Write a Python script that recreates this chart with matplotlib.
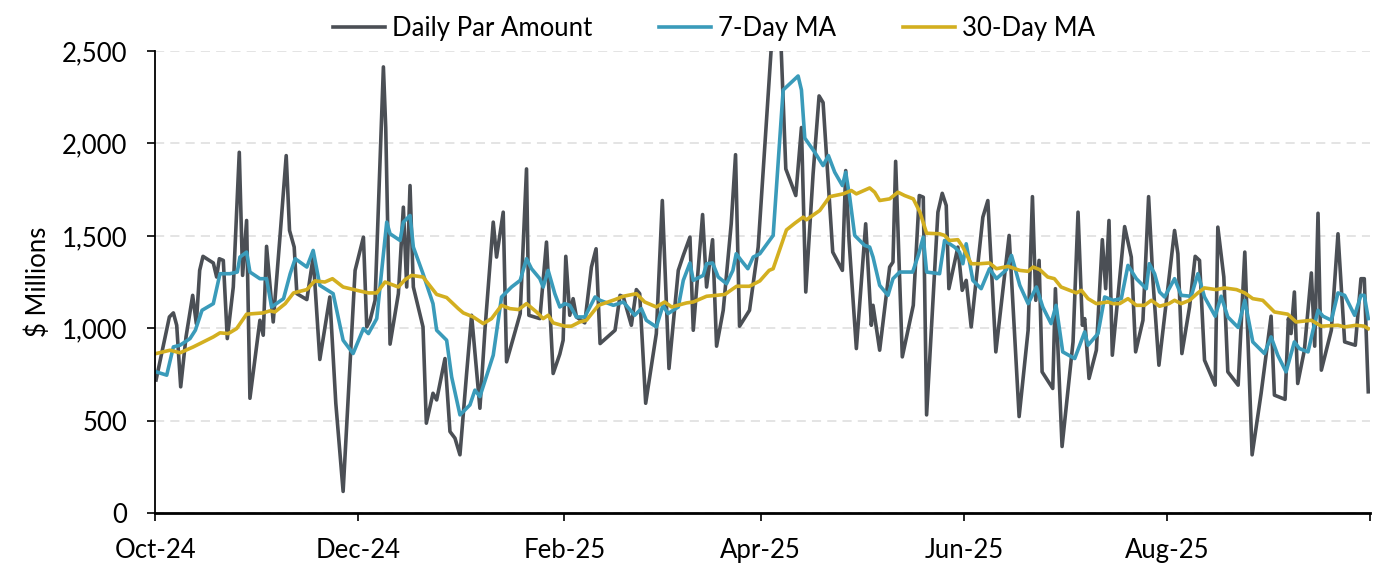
import pandas as pd
import matplotlib
matplotlib.use('Agg')
import matplotlib.pyplot as plt
import matplotlib.dates as mdates
from matplotlib.ticker import FuncFormatter

plt.rcParams['font.family'] = ['Lato', 'DejaVu Sans']

# Значения; дни отсчитываются от 2024-10-01
start = pd.Timestamp('2024-10-01')

daily_day = [0.3, 4.3, 5.5, 6.5, 7.7, 9.3, 11.3, 12.4, 13.4, 14.4, 17.5, 18.5, 19.3, 20.5, 21.7,
             23.5, 25.3, 26.3, 27.5, 28.5, 31.5, 32.5, 33.5, 35.5, 37.6, 39.4, 40.4, 41.8, 42.6,
             45.6, 47.5, 49.5, 52.5, 54.3, 56.5, 60.1, 62.6, 63.6, 64.6, 66.1, 68.6, 69.3, 70.6,
             73.1, 74.6, 75.6, 76.6, 77.6, 80.5, 81.5, 83.5, 84.6, 87.1, 88.6, 90.1, 91.6, 93.6,
             95.1, 97.6, 99.1, 101.6, 102.6, 104.6, 105.6, 109.7, 111.6, 112.3, 115.6, 117.6,
             119.6, 121.6, 122.6, 123.4, 124.6, 125.6, 126.6, 129.1, 131.1, 132.5, 133.7, 138.2,
             139.7, 140.7, 143.1, 144.6, 145.6, 147.4, 150.6, 152.4, 154.4, 157.2, 158.7, 160.7,
             161.7, 164.5, 165.7, 167.5, 168.7, 170.7, 173.1, 174.4, 175.6, 178.6, 181.2, 187.0,
             189.5, 192.5, 194.2, 195.5, 197.7, 199.5, 200.7, 203.6, 206.5, 207.5, 208.5, 210.7,
             213.5, 215.2, 215.7, 217.7, 220.7, 221.7, 222.5, 224.5, 227.8, 229.6, 230.8, 231.8,
             235.2, 236.5, 237.7, 238.5, 241.2, 242.5, 243.7, 245.2, 248.7, 250.2, 252.6, 256.6,
             259.6, 262.3, 263.6, 264.6, 265.6, 266.5, 269.7, 270.5, 272.5, 275.8, 277.3, 278.6,
             279.3, 280.6, 282.8, 284.6, 285.6, 286.6, 287.6, 291.3, 293.3, 294.6, 296.8, 298.5,
             299.8, 301.6, 306.3, 307.3, 308.5, 310.8, 312.5, 313.8, 315.3, 318.5, 319.3, 321.1,
             322.3, 325.4, 327.4, 329.6, 332.3, 335.3, 336.3, 339.5, 340.5, 341.3, 342.3, 343.3,
             345.3, 347.4, 348.4, 349.4, 350.4, 353.4, 355.4, 357.4, 360.6, 362.3, 363.3, 364.5]
daily_val = [720, 1061, 1083, 1016, 683, 953, 1178, 1025, 1313, 1389, 1353, 1277, 1376, 1367, 944,
             1223, 1952, 1286, 1583, 621, 1043, 962, 1443, 1034, 1511, 1934, 1529, 1439, 1187,
             1155, 1385, 831, 1169, 594, 117, 1313, 1493, 1007, 1043, 1151, 2414, 2086, 914,
             1187, 1655, 1223, 1772, 1223, 1007, 486, 648, 612, 836, 441, 405, 315, 755,
             1070, 567, 989, 1574, 1385, 1628, 818, 1079, 1862, 1070, 1052, 1466,
             755, 860, 935, 1389, 1070, 1160, 1061, 1029, 1331, 1430, 917, 989,
             1178, 1169, 1016, 1209, 1187, 594, 971, 1691, 782, 1313, 1394, 1493,
             989, 1615, 1223, 1479, 903, 1097, 1565, 1939, 1011, 1097, 1439, 3030,
             1862, 1718, 2086, 1196, 1835, 2257, 2221, 1412, 1313, 1853, 1475, 890,
             1565, 1016, 1124, 881, 1331, 1358, 1903, 845, 1124, 1718, 1709, 531,
             1628, 1730, 1664, 1214, 1439, 1205, 1259, 1007, 1601, 1691, 872, 1502,
             522, 989, 1712, 1151, 1367, 764, 674, 1214, 360, 926, 1628, 1016,
             1052, 728, 881, 1479, 1214, 1583, 854, 1550, 1385, 872, 1043, 1712,
             1259, 800, 1529, 1403, 863, 1115, 1389, 1367, 827, 692, 1547, 1277,
             764, 692, 1412, 315, 647, 1065, 638, 615, 1052, 971, 1196, 701,
             881, 1299, 903, 1622, 773, 989, 1511, 926, 908, 1268, 1268, 656]

ma7_day = [0.3, 3.5, 5.5, 7.5, 10.5, 12.1, 14.1, 17.5, 19.5, 22.5, 24.7, 25.5, 27.5, 28.5, 31.5,
           33.5, 35.0, 38.6, 40.6, 42.1, 45.6, 47.5, 49.5, 53.5, 56.5, 59.5, 62.6, 64.1, 66.6,
           69.6, 70.6, 73.6, 74.6, 76.6, 77.6, 80.5, 83.5, 84.6, 87.6, 89.1, 91.6, 94.6, 96.1,
           97.6, 101.6, 104.1, 107.1, 109.7, 111.6, 113.1, 115.6, 116.6, 118.1, 120.1, 121.6,
           123.1, 124.6, 126.6, 129.1, 132.2, 133.7, 137.7, 140.7, 144.1, 146.1, 147.6, 150.6,
           152.6, 154.1, 157.2, 158.7, 160.7, 161.7, 164.7, 165.7, 167.5, 169.2, 171.7, 173.6,
           174.6, 176.1, 178.1, 179.7, 181.7, 185.7, 188.7, 193.2, 194.2, 195.2, 198.2, 200.7,
           202.3, 204.2, 206.5, 207.5, 208.7, 210.2, 213.2, 214.7, 215.7, 217.7, 220.2, 221.7,
           223.7, 227.6, 229.3, 230.8, 231.8, 235.7, 237.2, 240.2, 241.7, 242.7, 243.7, 245.7,
           248.2, 250.7, 252.8, 255.8, 257.3, 259.8, 262.3, 264.8, 266.7, 269.2, 270.7, 272.7,
           276.3, 279.3, 280.3, 283.3, 285.3, 287.8, 290.3, 292.3, 294.8, 297.8, 298.7, 300.3,
           301.8, 303.3, 306.3, 308.3, 311.3, 313.3, 315.3, 318.5, 320.3, 322.3, 325.4, 327.4,
           329.8, 333.3, 335.3, 337.3, 339.8, 342.3, 343.8, 346.4, 347.9, 349.4, 350.9, 353.4,
           355.4, 357.4, 360.4, 362.3, 363.3, 364.5]
ma7_val = [764, 746, 899, 908, 944, 989, 1097, 1133, 1295, 1295, 1304, 1385, 1412, 1304, 1268,
           1268, 1115, 1160, 1295, 1376, 1331, 1421, 1232, 1187, 935, 863, 998, 971, 1052,
           1574, 1511, 1475, 1574, 1610, 1439, 1295, 1133, 989, 935, 737, 531, 585, 665,
           630, 854, 1169, 1223, 1259, 1376, 1322, 1268, 1223, 1313, 1187, 1115,
           1133, 1124, 1061, 1061, 1169, 1151, 1124, 1142, 1070, 1106, 1043, 1007,
           1124, 1079, 1115, 1259, 1353, 1259, 1286, 1349, 1353, 1277, 1241, 1313,
           1403, 1367, 1322, 1385, 1403, 1502, 2289, 2365, 2289, 2029, 1952, 1880,
           1934, 1844, 1772, 1844, 1709, 1502, 1448, 1439, 1385, 1232, 1178, 1268,
           1304, 1304, 1394, 1493, 1304, 1295, 1475, 1439, 1412, 1349, 1457, 1259,
           1214, 1322, 1268, 1317, 1394, 1232, 1133, 1223, 1115, 1025, 1124, 872,
           836, 980, 908, 971, 1169, 1151, 1160, 1340, 1268, 1214, 1349, 1295,
           1196, 1169, 1268, 1178, 1173, 1295, 1169, 1065, 1173, 1061, 1004, 1151,
           926, 863, 953, 854, 764, 926, 890, 872, 989, 1097, 1065, 1043,
           1191, 1178, 1070, 1178, 1178, 1052]

ma30_day = [0.3, 4.5, 7.5, 11.5, 17.5, 19.5, 22.0, 24.5, 27.5, 32.5, 34.5, 36.0, 39.1, 41.6,
            45.6, 48.0, 51.0, 53.3, 56.5, 61.6, 64.1, 66.6, 69.1, 73.1, 75.1, 77.1, 80.5,
            84.6, 87.6, 91.1, 92.6, 95.6, 98.6, 101.1, 104.1, 106.6, 109.2, 111.6, 114.6,
            116.6, 118.1, 119.6, 123.1, 125.1, 127.6, 129.6, 133.2, 138.2, 140.7, 144.6,
            147.1, 150.6, 153.1, 155.2, 159.7, 161.7, 165.7, 168.7, 171.2, 174.7, 178.6,
            181.7, 184.5, 185.7, 189.7, 192.2, 194.7, 195.7, 199.7, 202.7, 206.7, 209.2,
            210.7, 214.7, 216.2, 217.7, 220.7, 223.2, 225.2, 227.8, 229.8, 231.8, 235.7,
            237.2, 238.7, 241.2, 242.7, 245.2, 247.7, 250.7, 252.8, 256.3, 259.8, 262.3,
            263.8, 265.8, 268.2, 270.2, 272.2, 276.8, 278.3, 280.3, 282.8, 286.3, 287.8,
            289.8, 292.3, 294.8, 297.3, 299.3, 301.8, 304.6, 306.3, 308.3, 310.8, 313.3,
            315.3, 318.8, 321.3, 324.9, 327.4, 329.8, 332.8, 336.3, 340.3, 342.8, 347.4,
            350.4, 355.4, 357.4, 360.8, 363.3, 364.5]
ma30_val = [863, 881, 867, 899, 953, 975, 971, 998, 1076, 1083, 1094, 1088, 1133, 1191,
            1209, 1256, 1250, 1268, 1223, 1201, 1191, 1191, 1250, 1223, 1263, 1286, 1277,
            1183, 1166, 1106, 1083, 1061, 1025, 1052, 1124, 1106, 1101, 1133, 1088,
            1052, 1070, 1029, 1011, 1011, 1034, 1043, 1124, 1155, 1173, 1187,
            1142, 1115, 1142, 1115, 1137, 1142, 1173, 1178, 1183, 1227, 1227,
            1256, 1313, 1322, 1532, 1568, 1601, 1587, 1637, 1712, 1727, 1745,
            1727, 1759, 1736, 1691, 1700, 1736, 1718, 1700, 1628, 1514, 1511,
            1502, 1475, 1479, 1439, 1349, 1349, 1353, 1322, 1335, 1313, 1308,
            1331, 1317, 1277, 1268, 1223, 1191, 1205, 1160, 1133, 1142, 1133,
            1133, 1160, 1124, 1124, 1151, 1119, 1133, 1151, 1133, 1151, 1191,
            1218, 1209, 1218, 1209, 1191, 1160, 1151, 1088, 1076, 1034, 1043,
            1011, 1016, 1007, 1016, 1011, 998]

tick_dates = ['2024-10-01', '2024-12-01', '2025-02-01', '2025-04-01', '2025-06-01',
              '2025-08-01', '2025-10-01']
tick_labels = ['Oct-24', 'Dec-24', 'Feb-25', 'Apr-25', 'Jun-25', 'Aug-25', '']

daily_x = start + pd.to_timedelta(daily_day, unit='D')
ma7_x = start + pd.to_timedelta(ma7_day, unit='D')
ma30_x = start + pd.to_timedelta(ma30_day, unit='D')

fig = plt.figure(figsize=(13.87, 5.72), dpi=100)
ax = fig.add_axes([0.1118, 0.1031, 0.8759, 0.8077])

ax.plot(daily_x, daily_val, color='#4B4F55', lw=2.6, label='Daily Par Amount')
ax.plot(ma7_x, ma7_val, color='#3A9BBA', lw=2.6, label='7-Day MA')
ax.plot(ma30_x, ma30_val, color='#D3AF20', lw=2.6, label='30-Day MA')

ax.set_ylim(0, 2500)
ax.set_yticks(range(0, 2501, 500))
ax.yaxis.set_major_formatter(FuncFormatter(lambda v, p: f'{int(v):,}'))
ax.set_xlim(pd.Timestamp('2024-10-01'), pd.Timestamp('2025-10-01'))
ax.set_xticks(pd.to_datetime(tick_dates))
ax.set_xticklabels(tick_labels)

ax.grid(axis='y', color='#DDDDDD', lw=1.1, ls=(0, (6, 4)))
ax.set_axisbelow(True)
for s in ['top', 'right']:
    ax.spines[s].set_visible(False)
ax.spines['left'].set_linewidth(1.3)
ax.spines['bottom'].set_linewidth(2.0)
ax.tick_params(axis='both', direction='out', length=6, width=1.2, labelsize=18.5, colors='black')
ax.tick_params(axis='y', pad=14)
ax.tick_params(axis='x', pad=12)
ax.set_ylabel('$ Millions', fontsize=18.5, labelpad=8)

fig.legend(loc='center', bbox_to_anchor=(0.515, 0.951), ncol=3, frameon=False,
           fontsize=18.5, handlelength=2.0, handletextpad=0.3, columnspacing=2.6)

fig.savefig('out.png', dpi=100)
